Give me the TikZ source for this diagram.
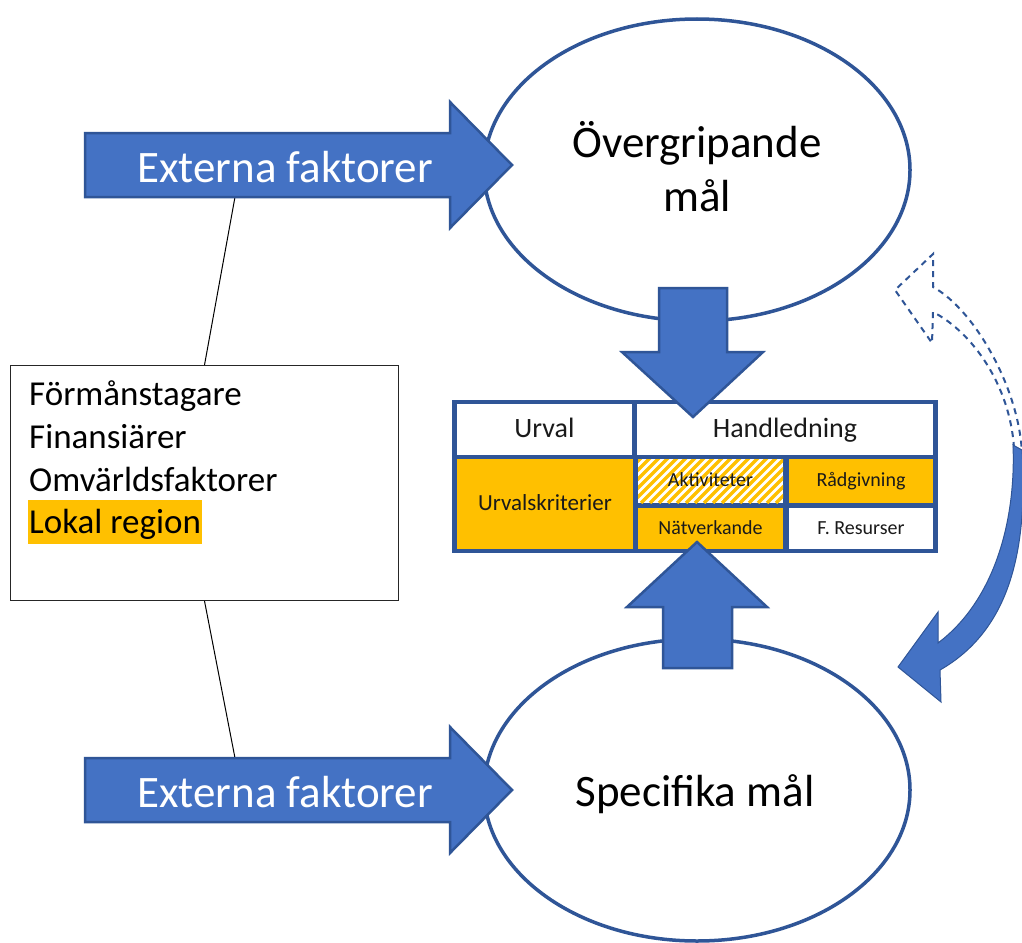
\documentclass[tikz,border=0pt]{standalone}
\usepackage{fontspec}
\setmainfont{Carlito}
\usetikzlibrary{shapes.geometric}
\definecolor{blockblue}{HTML}{4472C4}
\definecolor{edgeblue}{HTML}{2F5597}
\definecolor{amber}{HTML}{FFC000}
\definecolor{ink}{HTML}{1A1A1A}
\begin{document}
\begin{tikzpicture}[x=1pt,y=-1pt,
  blockarrow/.style={fill=blockblue, draw=edgeblue, line width=2.5pt, line join=miter},
  goal/.style={ellipse, inner sep=0pt, minimum width=426pt, minimum height=302pt},
  goalline/.style={draw=edgeblue, fill=white, line width=3.5pt, line cap=round, line join=round},
  goaltext/.style={anchor=base, inner sep=0pt, font=\fontsize{45}{54}\selectfont},
  flowtext/.style={anchor=base, inner sep=0pt, text=white, font=\fontsize{45}{54}\selectfont},
  listtext/.style={anchor=base west, inner sep=0pt, font=\fontsize{35}{42}\selectfont},
  cell/.style={anchor=north west, inner sep=0pt, outer sep=0pt, text=ink},
  bigcell/.style={cell, font=\fontsize{28}{32}\selectfont, fill=white,
    text height=20pt, text depth=4.5pt},
  smallcell/.style={cell, font=\fontsize{20}{24}\selectfont,
    text height=14.4pt, text depth=3.2pt},
  leader/.style={draw=black, line width=1pt},
  loopdash/.style={draw=edgeblue, line width=2pt, dash pattern=on 6pt off 5pt, line join=miter}
]
% canvas
\fill[white] (0,0) rectangle (1022,942);
\useasboundingbox (0,0) rectangle (1022,942);

% stakeholder box and its leaders to the two factor arrows
\node[draw=black!85, line width=1pt, anchor=north west, inner sep=0pt,
      minimum width=388pt, minimum height=235pt] (box) at (10,365) {};
\coordinate (extAfoot) at (235,197);
\coordinate (extBfoot) at (235,758);
\draw[leader] (extAfoot) -- (box.north);
\draw[leader] (box.south) -- (extBfoot);

% goal ellipses
\node[goal] (overall) at (697,170) {};
\node[goal] (specific) at (697,790) {};
\draw[goalline] (overall.center) ellipse [x radius=213pt, y radius=151pt];
\draw[goalline] (specific.center) ellipse [x radius=213pt, y radius=151pt];

% table frame and cells
\node[fill=edgeblue, anchor=north west, inner sep=0pt,
      minimum width=486pt, minimum height=153pt] (table) at (452,400) {};
\node[bigcell, minimum width=175pt, minimum height=51pt] (urval) at (457,404) {Urval};
\node[bigcell, minimum width=296pt, minimum height=51pt] (handl) at (637,404) {Handledning};
\node[cell, fill=amber, font=\fontsize{23}{27}\selectfont, text height=16.5pt, text depth=3.7pt,
      minimum width=176pt, minimum height=90pt] (krit) at (457,459) {Urvalskriterier};
\node[smallcell, fill=white, minimum width=145pt, minimum height=44pt,
      path picture={
        \foreach \k in {-60,-51,...,160}
          \draw[amber, line width=3.3pt]
            ([xshift=\k pt]path picture bounding box.south west) -- ++(70pt,70pt);
      }] (akt) at (638,459) {Aktiviteter};
\node[smallcell, fill=amber, minimum width=144pt, minimum height=44pt] (rad) at (789,459) {Rådgivning};
\node[smallcell, fill=amber, minimum width=145pt, minimum height=41pt] (nat) at (638,508) {Nätverkande};
\node[smallcell, fill=white, minimum width=144pt, minimum height=41pt] (res) at (789,508) {F. Resurser};

% vertical block arrows between the goals and the table
\draw[blockarrow] (659,288) -- (727,288) -- (727,352) -- (763,352) -- (693,417)
  -- (622,352) -- (659,352) -- cycle;
\draw[blockarrow] (663,668) -- (732,668) -- (732,607) -- (767,607) -- (697,542)
  -- (627,607) -- (663,607) -- cycle;

% external factor arrows
\draw[blockarrow] (85,133) -- (450,133) -- (450,102) -- (512,165) -- (450,228)
  -- (450,197) -- (85,197) -- cycle;
\draw[blockarrow] (85,758) -- (450,758) -- (450,727) -- (512,790) -- (450,853)
  -- (450,822) -- (85,822) -- cycle;

% feedback loop: dashed return path and solid curved arrow
\draw[loopdash] (1014,448) .. controls (1010,385) and (972,332) .. (933,312)
  -- (932,343) -- (895,290) -- (933,254) -- (933,287)
  .. controls (975,310) and (1020,390) .. (1022,455);
\draw[fill=blockblue, draw=edgeblue, line width=1pt, line join=miter]
  (1013,445) -- (1022,450) .. controls (1028,550) and (1010,630) .. (940,670)
  -- (941,702) -- (898,667) -- (938,612) -- (938,643)
  .. controls (995,600) and (1016,520) .. (1013,445) -- cycle;

% texts
\node[goaltext] (overallA) at (697,157) {Övergripande};
\node[goaltext] (overallB) at (697,211) {mål};
\node[goaltext] (specificT) at (695,806) {Specifika mål};
\node[flowtext] (extA) at (285,182) {Externa faktorer};
\node[flowtext] (extB) at (285,807) {Externa faktorer};
\node[listtext] (l1) at (29,405) {Förmånstagare};
\node[listtext] (l2) at (29,448) {Finansiärer};
\node[listtext] (l3) at (29,491) {Omvärldsfaktorer};
\node[listtext, fill=amber, inner xsep=1pt, text height=33pt, text depth=11pt] (l4) at (28,533) {Lokal region};
\end{tikzpicture}
\end{document}
